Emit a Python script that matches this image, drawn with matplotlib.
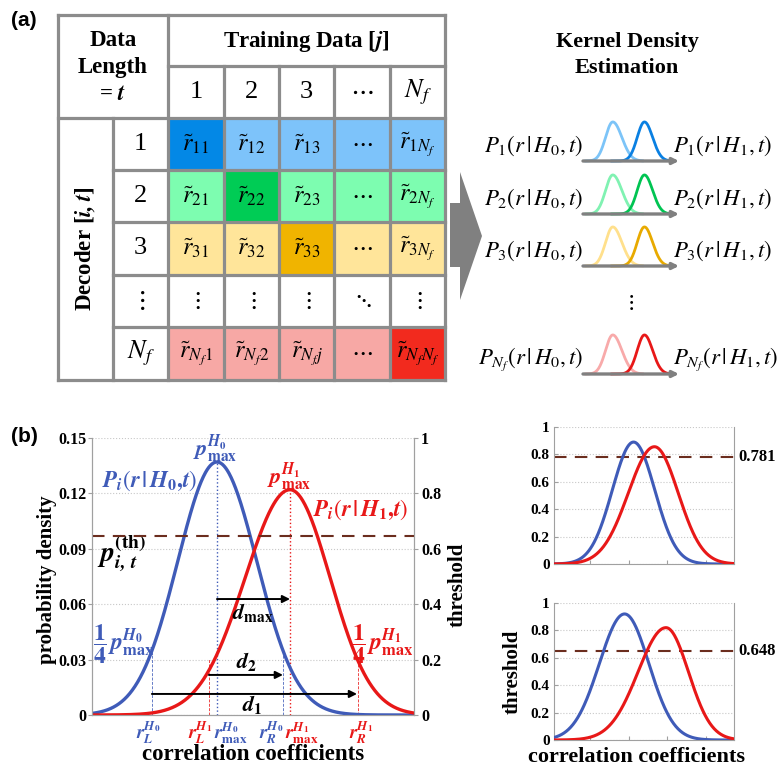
import numpy as np
import matplotlib
matplotlib.use('Agg')
import matplotlib.pyplot as plt
from matplotlib.patches import Rectangle, Polygon

plt.rcParams['mathtext.fontset'] = 'stix'
plt.rcParams['font.family'] = ['Liberation Serif', 'DejaVu Serif']

# ---------------- data ----------------
col_labels = ['1', '2', '3', r'$\cdots$', r'$N_f$']
row_labels = ['1', '2', '3', r'$\vdots$', r'$N_f$']
cell_text = [
    [r'$\tilde{r}_{11}$', r'$\tilde{r}_{12}$', r'$\tilde{r}_{13}$', r'$\cdots$', r'$\tilde{r}_{1N_f}$'],
    [r'$\tilde{r}_{21}$', r'$\tilde{r}_{22}$', r'$\tilde{r}_{23}$', r'$\cdots$', r'$\tilde{r}_{2N_f}$'],
    [r'$\tilde{r}_{31}$', r'$\tilde{r}_{32}$', r'$\tilde{r}_{33}$', r'$\cdots$', r'$\tilde{r}_{3N_f}$'],
    [r'$\vdots$', r'$\vdots$', r'$\vdots$', r'$\ddots$', r'$\vdots$'],
    [r'$\tilde{r}_{N_f1}$', r'$\tilde{r}_{N_f2}$', r'$\tilde{r}_{N_fj}$', r'$\cdots$', r'$\tilde{r}_{N_fN_f}$'],
]
cell_colors = [
    ['#0388E6', '#7DC3FA', '#7DC3FA', '#7DC3FA', '#7DC3FA'],
    ['#7DFDB0', '#00CC55', '#7DFDB0', '#7DFDB0', '#7DFDB0'],
    ['#FFE59A', '#FFE59A', '#F0B400', '#FFE59A', '#FFE59A'],
    ['#FFFFFF', '#FFFFFF', '#FFFFFF', '#FFFFFF', '#FFFFFF'],
    ['#F7A8A5', '#F7A8A5', '#F7A8A5', '#F7A8A5', '#F22A1E'],
]

kde_index = ['1', '2', '3', 'N_f']
kde_light = ['#7CC4F8', '#80F2B2', '#FFE08C', '#F8AAAA']
kde_dark = ['#0A80E2', '#00C452', '#E8AA00', '#E81818']
# mini kernel curves: [center, height, sigma_left, sigma_right]
kde_h0 = [0.31, 0.93, 0.075, 0.095]
kde_h1 = [0.64, 0.93, 0.075, 0.085]

# main panel (b): [center, peak, sigma_left, sigma_right]
main_h0 = [0.388, 0.137, 0.122, 0.124]
main_h1 = [0.615, 0.122, 0.140, 0.125]
main_threshold = 0.648
r_marks_h0 = [0.186, 0.388, 0.593]   # r_L, r_max, r_R  (H0)
r_marks_h1 = [0.363, 0.615, 0.827]   # r_L, r_max, r_R  (H1)
d_arrows = {'max': (0.388, 0.615, 0.0628), '2': (0.363, 0.593, 0.0217), '1': (0.186, 0.823, 0.0114)}

# right panels: [center, peak, sigma_left, sigma_right]
top_h0 = [0.442, 0.89, 0.118, 0.118]
top_h1 = [0.558, 0.856, 0.145, 0.132]
top_threshold = 0.781
bot_h0 = [0.392, 0.92, 0.14, 0.135]
bot_h1 = [0.622, 0.82, 0.155, 0.125]
bot_threshold = 0.648

BLUE = '#3F5BB8'
RED = '#E81818'
BROWN = '#6B2D1E'
GRAY = '#A0A0A0'


def curve(x, p):
    c, h, sl, sr = p
    s = np.where(x < c, sl, sr)
    return h * np.exp(-0.5 * ((x - c) / s) ** 2)


W, H = 781, 771
fig = plt.figure(figsize=(W / 100, H / 100), dpi=100)


def rect(x0, y0, x1, y1):
    return [x0 / W, 1 - y1 / H, (x1 - x0) / W, (y1 - y0) / H]


# ---------------- overlay (pixel coords) ----------------
ax0 = fig.add_axes([0, 0, 1, 1])
ax0.set_xlim(0, W)
ax0.set_ylim(H, 0)
ax0.axis('off')

ce = [58, 113, 168, 224, 279, 334, 390, 445]
re_ = [15, 66, 118, 170, 222, 275, 327, 380]

for r in range(5):
    for c in range(5):
        x0, x1 = ce[c + 2], ce[c + 3]
        y0, y1 = re_[r + 2], re_[r + 3]
        ax0.add_patch(Rectangle((x0, y0), x1 - x0, y1 - y0, fc=cell_colors[r][c], ec='none'))
        ax0.text((x0 + x1) / 2, (y0 + y1) / 2, cell_text[r][c], ha='center', va='center', fontsize=17.5)

for c in range(5):
    ax0.text((ce[c + 2] + ce[c + 3]) / 2, (re_[1] + re_[2]) / 2, col_labels[c],
             ha='center', va='center', fontsize=19)
for r in range(5):
    ax0.text((ce[1] + ce[2]) / 2, (re_[r + 2] + re_[r + 3]) / 2, row_labels[r],
             ha='center', va='center', fontsize=19)

LC = '#8C8C8C'
LW = 2.3
def seg(x0, y0, x1, y1):
    ax0.plot([x0, x1], [y0, y1], color=LC, lw=LW, solid_capstyle='projecting')

for x in [ce[0], ce[2], ce[7]]:
    seg(x, re_[0], x, re_[7])
seg(ce[1], re_[2], ce[1], re_[7])
for x in ce[3:7]:
    seg(x, re_[1], x, re_[7])
for y in [re_[0], re_[2], re_[7]]:
    seg(ce[0], y, ce[7], y)
seg(ce[2], re_[1], ce[7], re_[1])
for y in re_[3:7]:
    seg(ce[1], y, ce[7], y)

ax0.text(113, 41, 'Data', ha='center', va='center', fontsize=16.5, fontweight='bold')
ax0.text(113, 68, 'Length', ha='center', va='center', fontsize=16.5, fontweight='bold')
ax0.text(113, 95, r'= $\mathbfit{t}$', ha='center', va='center', fontsize=16.5, fontweight='bold')
ax0.text(306, 41, r'Training Data [$\mathbfit{j}$]', ha='center', va='center', fontsize=16.5, fontweight='bold')
ax0.text(86, 249, r'Decoder [$\mathbfit{i,t}$]', ha='center', va='center', fontsize=16.5,
         fontweight='bold', rotation=90)

ax0.text(11, 21, '(a)', ha='left', va='center', fontsize=15, fontweight='bold', family='Liberation Sans')
ax0.text(11, 437, '(b)', ha='left', va='center', fontsize=15, fontweight='bold', family='Liberation Sans')

ax0.add_patch(Polygon([(450, 203), (460, 203), (460, 172), (482, 236), (460, 300), (460, 267), (450, 267)],
                      closed=True, fc='#808080', ec='none'))

ax0.text(627, 42, 'Kernel Density', ha='center', va='center', fontsize=16, fontweight='bold')
ax0.text(627, 68, 'Estimation', ha='center', va='center', fontsize=16, fontweight='bold')

baselines = [161, 214, 266, 374]
xs_mini = np.linspace(0, 1, 300)
for k, yb in enumerate(baselines):
    am = fig.add_axes(rect(583, yb - 42, 679, yb))
    am.set_xlim(0, 1)
    am.set_ylim(0, 1)
    am.axis('off')
    m0 = (xs_mini > 0.03) & (xs_mini < 0.62)
    m1 = (xs_mini > 0.3) & (xs_mini < 0.88)
    am.plot(xs_mini[m0], curve(xs_mini[m0], kde_h0), color=kde_light[k], lw=2.0, clip_on=False)
    am.plot(xs_mini[m1], curve(xs_mini[m1], kde_h1), color=kde_dark[k], lw=2.0, clip_on=False)
    am.annotate('', xy=(1.0, 0.0), xytext=(0.0, 0.0), xycoords='axes fraction',
                arrowprops=dict(arrowstyle='-|>', color='#808080', lw=2.4, shrinkA=0, shrinkB=0,
                                mutation_scale=9), annotation_clip=False)
    idx = kde_index[k]
    ax0.text(583, yb - 15, r'$P_{%s}\left(r\,|\,H_0,t\right)$' % idx, ha='right', va='center', fontsize=16.5)
    ax0.text(673, yb - 15, r'$P_{%s}\left(r\,|\,H_1,t\right)$' % idx, ha='left', va='center', fontsize=16.5)
ax0.text(630, 303, r'$\vdots$', ha='center', va='center', fontsize=16)

# ---------------- main panel (b) ----------------
ax = fig.add_axes(rect(92, 438, 414, 715))
ax.set_xlim(0, 1)
ax.set_ylim(0, 0.15)
x = np.linspace(0, 1, 600)
ax.plot(x, curve(x, main_h0), color=BLUE, lw=2.4, zorder=3)
ax.plot(x, curve(x, main_h1), color=RED, lw=2.4, zorder=3)

ax.set_yticks([0, 0.03, 0.06, 0.09, 0.12, 0.15])
ax.set_yticklabels(['0', '0.03', '0.06', '0.09', '0.12', '0.15'], fontsize=11.5, fontweight='bold')
ax.set_xticks([])
ax.grid(axis='y', color='#C8C8C8', ls=':', lw=0.8)
ax.spines['top'].set_visible(False)
for s in ['left', 'bottom', 'right']:
    ax.spines[s].set_color(GRAY)
ax.tick_params(axis='y', direction='out', length=3, color=GRAY, pad=1)

ax2 = ax.twinx()
ax2.set_ylim(0, 1)
ax2.set_yticks([0, 0.2, 0.4, 0.6, 0.8, 1.0])
ax2.set_yticklabels(['0', '0.2', '0.4', '0.6', '0.8', '1'], fontsize=11.5, fontweight='bold')
ax2.spines['top'].set_visible(False)
for s in ['left', 'bottom', 'right']:
    ax2.spines[s].set_color(GRAY)
ax2.tick_params(axis='y', direction='out', length=3, color=GRAY, pad=2)
ax2.axhline(main_threshold, color=BROWN, lw=1.5, dashes=(6, 4), zorder=2)
ax2.set_ylabel('threshold', fontsize=15, fontweight='bold', rotation=90)
ax2.yaxis.set_label_coords(1.105, 0.47)

# vertical markers
h0_peak, h1_peak = main_h0[1], main_h1[1]
ax.vlines(r_marks_h0[1], 0, h0_peak, color=BLUE, ls=':', lw=1.0, zorder=2)
ax.vlines(r_marks_h1[1], 0, h1_peak, color=RED, ls=':', lw=1.0, zorder=2)
for xv in [r_marks_h0[0], r_marks_h0[2]]:
    ax.vlines(xv, 0, h0_peak / 4, color=BLUE, ls=(0, (3, 1.5)), lw=0.7, alpha=0.8, zorder=2)
for xv in [r_marks_h1[0], r_marks_h1[2]]:
    ax.vlines(xv, 0, h1_peak / 4, color=RED, ls=(0, (3, 1.5)), lw=0.7, alpha=0.8, zorder=2)

for key, (xa, xb, ya) in d_arrows.items():
    ax.annotate('', xy=(xb, ya), xytext=(xa, ya),
                arrowprops=dict(arrowstyle='-|>', color='black', lw=1.4, shrinkA=0, shrinkB=0,
                                mutation_scale=11), zorder=4)

ax.text(0.50, 0.0555, r'$\mathbfit{d}_{\mathbf{max}}$', ha='center', va='center', fontsize=16)
ax.text(0.481, 0.0290, r'$\mathbfit{d}_{\mathbf{2}}$', ha='center', va='center', fontsize=16)
ax.text(0.497, 0.0056, r'$\mathbfit{d}_{\mathbf{1}}$', ha='center', va='center', fontsize=16)

ax.text(0.18, 0.127, r'$\mathbfit{P}_{\mathbfit{i}}\left(\mathbfit{r}\,\mathbf{|}\,\mathbfit{H}_{\mathbf{0}}\mathbf{,}\mathbfit{t}\right)$',
        ha='center', va='center', fontsize=16.5, color=BLUE)
ax.text(0.835, 0.111, r'$\mathbfit{P}_{\mathbfit{i}}\left(\mathbfit{r}\,\mathbf{|}\,\mathbfit{H}_{\mathbf{1}}\mathbf{,}\mathbfit{t}\right)$',
        ha='center', va='center', fontsize=16.5, color=RED)
ax.text(0.382, 0.1435, r'$\mathbfit{p}_{\mathbf{max}}^{\mathbfit{H}_{\mathbf{0}}}$', ha='center', va='center',
        fontsize=16, color=BLUE)
ax.text(0.612, 0.1285, r'$\mathbfit{p}_{\mathbf{max}}^{\mathbfit{H}_{\mathbf{1}}}$', ha='center', va='center',
        fontsize=16, color=RED)
ax.text(0.092, 0.0875, r'$\mathbfit{p}_{\mathbfit{i,\,t}}^{\mathbf{(th)}}$', ha='center', va='center',
        fontsize=20, color='black')
ax.text(0.10, 0.0385, r'$\dfrac{\mathbf{1}}{\mathbf{4}}\,\mathbfit{p}_{\mathbf{max}}^{\mathbfit{H}_{\mathbf{0}}}$',
        ha='center', va='center', fontsize=17, color=BLUE)
ax.text(0.904, 0.0385, r'$\dfrac{\mathbf{1}}{\mathbf{4}}\,\mathbfit{p}_{\mathbf{max}}^{\mathbfit{H}_{\mathbf{1}}}$',
        ha='center', va='center', fontsize=17, color=RED)

r_labels = [
    (r'$\mathbfit{r}_{\mathbfit{L}}^{\mathbfit{H}_{\mathbf{0}}}$', BLUE, 0.175),
    (r'$\mathbfit{r}_{\mathbfit{L}}^{\mathbfit{H}_{\mathbf{1}}}$', RED, 0.336),
    (r'$\mathbfit{r}_{\mathbf{max}}^{\mathbfit{H}_{\mathbf{0}}}$', BLUE, 0.430),
    (r'$\mathbfit{r}_{\mathbfit{R}}^{\mathbfit{H}_{\mathbf{0}}}$', BLUE, 0.556),
    (r'$\mathbfit{r}_{\mathbf{max}}^{\mathbfit{H}_{\mathbf{1}}}$', RED, 0.652),
    (r'$\mathbfit{r}_{\mathbfit{R}}^{\mathbfit{H}_{\mathbf{1}}}$', RED, 0.835),
]
for txt, col, xl in r_labels:
    ax.text(xl, -0.066, txt, ha='center', va='center', fontsize=13.5, color=col,
            transform=ax.get_xaxis_transform())

ax.set_xlabel('correlation coefficients', fontsize=16.5, fontweight='bold')
ax.xaxis.set_label_coords(0.5, -0.105)
ax.set_ylabel('probability density', fontsize=15, fontweight='bold')
ax.yaxis.set_label_coords(-0.108, 0.487)

# ---------------- right panels ----------------
def small_panel(box, p0, p1, thr, thr_label):
    a = fig.add_axes(box)
    a.set_xlim(0, 1)
    a.set_ylim(0, 1)
    xx = np.linspace(0, 1, 400)
    a.plot(xx, curve(xx, p0), color=BLUE, lw=2.2, zorder=3)
    a.plot(xx, curve(xx, p1), color=RED, lw=2.2, zorder=3)
    a.axhline(thr, color=BROWN, lw=1.5, dashes=(6, 4), zorder=2, clip_on=False)
    a.set_yticks([0, 0.2, 0.4, 0.6, 0.8, 1.0])
    a.set_yticklabels(['0', '0.2', '0.4', '0.6', '0.8', '1'], fontsize=11, fontweight='bold')
    a.set_xticks([0.2, 0.415, 0.63, 0.845])
    a.set_xticklabels([])
    a.grid(axis='y', color='#C8C8C8', ls=':', lw=0.8)
    a.spines['top'].set_visible(False)
    for s in ['left', 'bottom', 'right']:
        a.spines[s].set_color(GRAY)
    a.tick_params(axis='both', direction='in', length=3, color=GRAY, pad=3)
    a.text(1.025, thr, thr_label, transform=a.transAxes, ha='left', va='center', fontsize=12,
           fontweight='bold')
    return a

axT = small_panel(rect(554, 427, 734, 564), top_h0, top_h1, top_threshold, '0.781')
axB = small_panel(rect(554, 603, 734, 740), bot_h0, bot_h1, bot_threshold, '0.648')
axB.set_ylabel('threshold', fontsize=15, fontweight='bold')
axB.yaxis.set_label_coords(-0.172, 0.5)
axB.set_xlabel('correlation coefficients', fontsize=16, fontweight='bold')
axB.xaxis.set_label_coords(0.46, -0.05)

fig.savefig('out.png', dpi=100)
